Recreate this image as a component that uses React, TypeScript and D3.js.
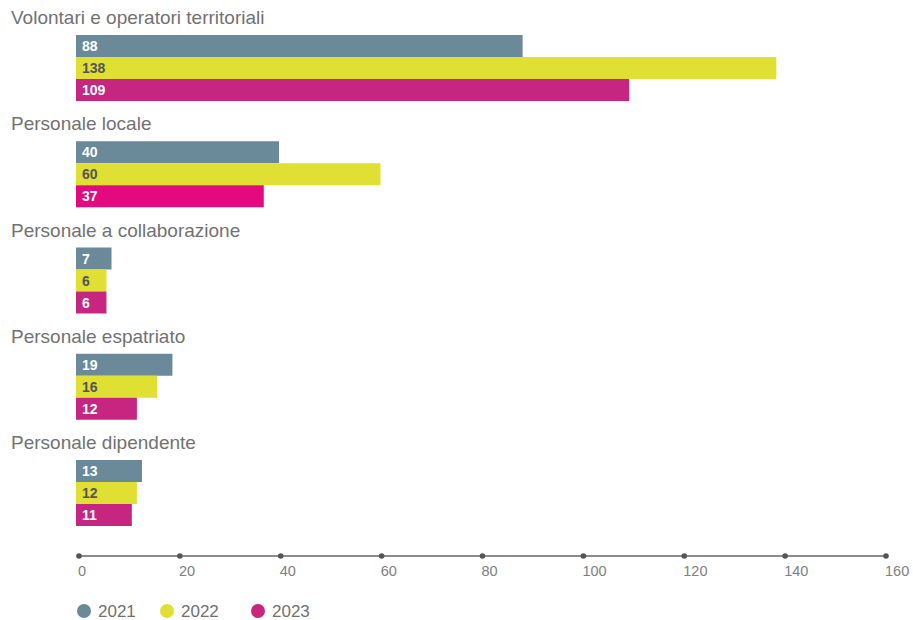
import React from "react";
import * as d3 from "d3";

const categories = [
  "Volontari e operatori territoriali",
  "Personale locale",
  "Personale a collaborazione",
  "Personale espatriato",
  "Personale dipendente",
];
const years = ["2021", "2022", "2023"];
const values2021 = [88, 40, 7, 19, 13];
const values2022 = [138, 60, 6, 16, 12];
const values2023 = [109, 37, 6, 12, 11];
const axisTicks = [0, 20, 40, 60, 80, 100, 120, 140, 160];

const seriesColors = ["#6b8a99", "#e0df33", "#c6267f"];
const altPink = "#e5097f";
const labelColors = ["#ffffff", "#555555", "#ffffff"];

export default function App() {
  const W = 913;
  const H = 620;
  const series = [values2021, values2022, values2023];
  const x = d3.scaleLinear().domain([0, 160]).range([76, 888]);
  const xAxis = d3.scaleLinear().domain([0, 160]).range([79, 886]);
  const y = d3
    .scaleBand<string>()
    .domain(categories)
    .range([35, 35 + 106.25 * 5])
    .paddingInner(0)
    .paddingOuter(0);
  const barH = 22;
  const font = "'Liberation Sans', Arial, Helvetica, sans-serif";

  return (
    <svg
      width={W}
      height={H}
      style={{ position: "absolute", left: 0, top: 0, background: "#fff" }}
      fontFamily={font}
    >
      {categories.map((c, i) => {
        const y0 = y(c)!;
        return (
          <g key={c}>
            <text x={11} y={y0 - 11} fontSize={19} fill="#727272">
              {c}
            </text>
            {series.map((s, j) => {
              const fill = j === 2 && i === 1 ? altPink : seriesColors[j];
              return (
                <g key={j}>
                  <rect
                    x={x(0)}
                    y={y0 + j * barH}
                    width={x(s[i]) - x(0)}
                    height={barH}
                    fill={fill}
                  />
                  <text
                    x={82}
                    y={y0 + j * barH + barH / 2 + 5}
                    fontSize={14}
                    fontWeight={700}
                    fill={labelColors[j]}
                  >
                    {s[i]}
                  </text>
                </g>
              );
            })}
          </g>
        );
      })}
      <line x1={xAxis(0)} x2={xAxis(160)} y1={556} y2={556} stroke="#666" strokeWidth={1.5} />
      {axisTicks.map((t) => (
        <g key={t}>
          <circle cx={xAxis(t)} cy={556} r={2.8} fill="#555" />
          <text x={xAxis(t) - 1} y={576} fontSize={14.5} fill="#808080">
            {t}
          </text>
        </g>
      ))}
      {years.map((yr, j) => {
        const lx = [84, 167, 258][j];
        return (
          <g key={yr}>
            <circle cx={lx} cy={611} r={7} fill={seriesColors[j]} />
            <text x={lx + 14} y={617} fontSize={17} fill="#707070">
              {yr}
            </text>
          </g>
        );
      })}
    </svg>
  );
}
